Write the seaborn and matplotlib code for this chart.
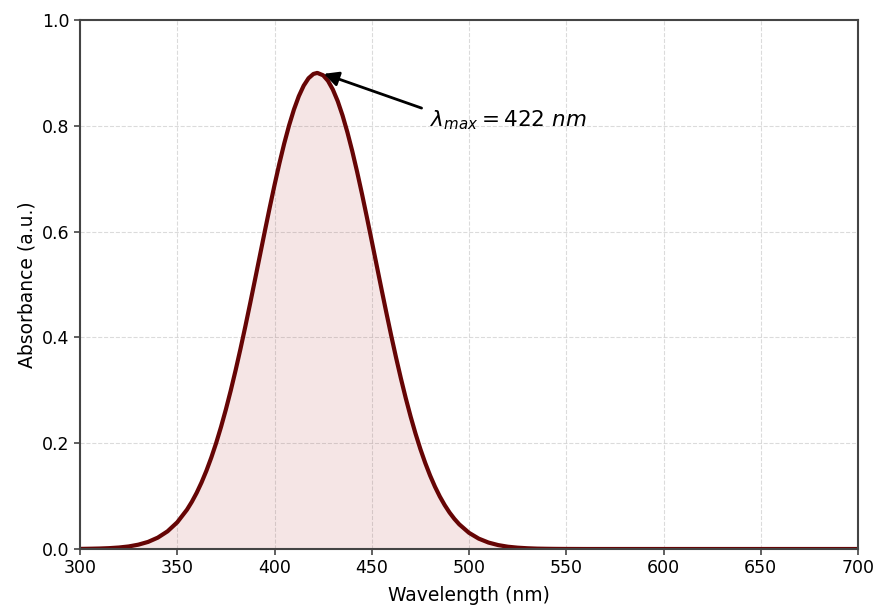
import numpy as np
import pandas as pd
import seaborn as sns
import matplotlib.pyplot as plt

# absorbance spectrum
wavelength = [300, 305, 310, 315, 320, 325, 330, 335, 340, 345, 350, 355,
              357.5, 360, 362.5, 365, 367.5, 370, 372.5, 375, 377.5, 380,
              382.5, 385, 387.5, 390, 392.5, 395, 397.5, 400, 402.5, 405,
              407.5, 410, 412.5, 415, 417.5, 420, 422, 425, 427.5, 430,
              432.5, 435, 437.5, 440, 442.5, 445, 447.5, 450, 452.5, 455,
              457.5, 460, 462.5, 465, 467.5, 470, 472.5, 475, 477.5, 480,
              482.5, 485, 487.5, 490, 492.5, 495, 500, 505, 510, 515, 520,
              525, 530, 535, 540, 545, 550, 560, 580, 600, 650, 700]
absorbance = [0.0002, 0.0005, 0.0009, 0.0016, 0.0028, 0.0048, 0.0082, 0.0134,
              0.0215, 0.0334, 0.0505, 0.0743,
              0.0892, 0.1063, 0.1259, 0.148, 0.1728, 0.2003, 0.2307, 0.2638,
              0.2995, 0.3378, 0.3783, 0.4207, 0.4646, 0.5096, 0.5549, 0.6003,
              0.6448, 0.6878, 0.7287, 0.7666, 0.8008, 0.8308, 0.8560, 0.8758,
              0.8899, 0.898, 0.900, 0.8955, 0.8850, 0.8685, 0.8466, 0.8194,
              0.7875, 0.7518, 0.7126, 0.6709, 0.6271, 0.5822, 0.5368, 0.4915,
              0.4469, 0.4035, 0.3618, 0.3222, 0.2849, 0.2502, 0.2182, 0.189,
              0.1626, 0.1389, 0.1178, 0.0992, 0.0830, 0.0689, 0.0569, 0.0466,
              0.0306, 0.0196, 0.0122, 0.0074, 0.0043, 0.0025, 0.0014, 0.0007,
              0.0004, 0.0002, 0.0001, 0.0, 0.0, 0.0, 0.0, 0.0]
peak_nm = 422
peak_abs = 0.9

df = pd.DataFrame({"Wavelength": wavelength, "Absorbance": absorbance})

sns.set_style("white")
plt.rcParams['font.family'] = ['DejaVu Sans']
plt.rcParams['text.color'] = 'black'
plt.rcParams['axes.labelcolor'] = 'black'
plt.rcParams['xtick.color'] = 'black'
plt.rcParams['ytick.color'] = 'black'

line_color = "#660505"

fig, ax = plt.subplots(figsize=(8.76, 6.05), dpi=100)
fig.subplots_adjust(left=80/876, right=858/876, top=1-20/605, bottom=1-549/605)

sns.lineplot(data=df, x="Wavelength", y="Absorbance", ax=ax,
             color=line_color, linewidth=3)
ax.fill_between(df["Wavelength"], df["Absorbance"], color="#b03030", alpha=0.12, lw=0)

ax.annotate(r"$\lambda_{max} = 422\ nm$", xy=(peak_nm + 2, peak_abs),
            xytext=(480, 0.81), fontsize=15.5, ha="left", va="center",
            arrowprops=dict(arrowstyle="-|>", color="black", lw=2,
                            mutation_scale=22, shrinkA=4, shrinkB=2,
                            relpos=(0.0, 0.9)))

ax.set_xlim(300, 700)
ax.set_ylim(0, 1.0)
ax.set_xticks(np.arange(300, 701, 50))
ax.set_yticks(np.arange(0, 1.01, 0.2))
ax.set_xlabel("Wavelength (nm)", fontsize=13.5, labelpad=6)
ax.set_ylabel("Absorbance (a.u.)", fontsize=13.5)
ax.tick_params(axis="both", labelsize=12.5, length=4, width=1.2, color="#444444",
               direction="out", bottom=True, left=True)
ax.grid(True, linestyle="--", color="#cccccc", alpha=0.7, linewidth=0.8)
for s in ax.spines.values():
    s.set_color("#444444")
    s.set_linewidth(1.5)

plt.savefig("out.png", dpi=100)
